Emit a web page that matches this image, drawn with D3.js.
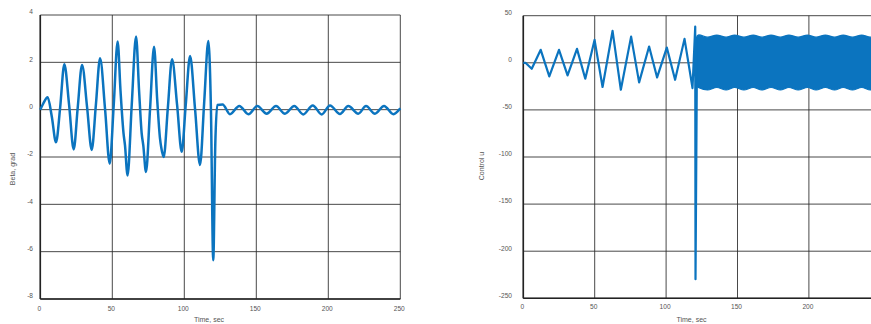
<!DOCTYPE html>
<html>
<head>
<meta charset="utf-8">
<script src="https://cdn.jsdelivr.net/npm/d3@7/dist/d3.min.js"></script>
<style>
  html, body { margin: 0; padding: 0; background: #fff; }
  svg { display: block; }
  text { font-family: "Liberation Sans", Arial, sans-serif; }
</style>
</head>
<body>
<svg id="chart" width="871" height="324"></svg>
<script>
// ---------- DATA ----------
// Left panel: Beta, grad vs Time, sec
const betaTime = [0, 2, 5.1, 8, 10.9, 13.8, 16.7, 20, 23.2, 26, 29, 32.5, 35.7, 38.6, 41.5, 45, 48.2, 51, 53.7,
  55.7, 57.8, 58.8, 60.6, 63.5, 66.5, 68.6, 70.4, 71.5, 73.4, 76.2, 79, 81.2, 83.1, 84, 85.7, 88.6, 91.5,
  95, 98.2, 101, 104, 107.5, 110.9, 113.8, 116.7, 118.5, 120.1, 121.5, 122.9, 126.6,
  131.7, 138.2, 144.5, 150.7, 157.2, 163.7, 169.9, 176.4, 182.6, 189.2, 195.4, 201.2, 208.1, 213.9,
  220.8, 226.2, 232.4, 238.7, 245.2, 250];
const betaValue = [0, 0.25, 0.52, -0.3, -1.38, 0.1, 1.92, 0.2, -1.68, 0.1, 1.89, 0.1, -1.7, 0.2, 2.17, 0.0, -2.28, 0.2, 2.88,
  0.8, -1.0, -1.5, -2.78, 0.2, 3.09, 0.8, -1.0, -1.5, -2.63, 0.0, 2.66, 0.4, -1.2, -1.6, -2.0, 0.1, 2.13,
  0.2, -1.78, 0.2, 2.27, 0.0, -2.34, 0.3, 2.9, 0.0, -6.36, -1.5, 0.2, 0.22,
  -0.19, 0.16, -0.19, 0.15, -0.17, 0.15, -0.17, 0.16, -0.2, 0.18, -0.2, 0.18, -0.18, 0.15,
  -0.17, 0.15, -0.17, 0.16, -0.19, 0.06];

// Right panel: Control u vs Time, sec (pre-switch part)
const uTime = [0, 1.5, 5.9, 12.2, 18.2, 25, 31, 37.6, 43.4, 49.9, 55.5, 62.5, 68.3, 75.5, 81.1, 88.1, 93.7,
  100.5, 106.3, 112.9, 118.5, 120.4, 120.6, 121.7];
const uValue = [0, 0, -6.4, 13.8, -14.5, 13.8, -13.4, 14.8, -16.9, 24.3, -25.7, 33.9, -28.6, 27.8, -20.8, 17.3, -15.5,
  16.2, -18, 25.4, -26.8, 38.4, -229.7, 28];

// Right panel: envelope of the dense high-frequency chattering after switch
const bandTime  = [121.7, 123, 129, 135.5, 142, 148, 154.5, 161, 167, 173.5, 180, 186, 192.5, 199, 205, 211.5, 218, 224, 230.5, 237, 243, 250];
const bandUpper = [28.5, 29.6, 27.2, 29.4, 27.2, 29.4, 27.2, 29.4, 27.2, 29.4, 27.2, 29.4, 27.2, 29.4, 27.2, 29.4, 27.2, 29.4, 27.2, 29.4, 27.2, 28.5];
const bandLower = [-25.5, -26.5, -28.8, -26.2, -28.8, -26.2, -28.8, -26.2, -28.8, -26.2, -28.8, -26.2, -28.8, -26.2, -28.8, -26.2, -28.8, -26.2, -28.8, -26.2, -28.8, -27.5];

// Ticks
const timeTicks = [0, 50, 100, 150, 200, 250];
const betaTicks = [-8, -6, -4, -2, 0, 2, 4];
const uTicks = [-250, -200, -150, -100, -50, 0, 50];

const titles = { beta: "Beta, grad", u: "Control u", time: "Time, sec" };

// ---------- DRAW ----------
const svg = d3.select("#chart");
const LINE = "#0b74bf";
const GRID = "#2a2a2a";
const TXT = "#555";

function panel(opts) {
  const g = svg.append("g");
  const x = d3.scaleLinear().domain([0, 250]).range(opts.xr);
  const y = d3.scaleLinear().domain(opts.yd).range(opts.yr);
  const x0 = opts.xr[0], x1 = Math.min(opts.xr[1], 871), y0 = opts.yr[1], y1 = opts.yr[0];

  // grid
  g.selectAll(".vg").data(timeTicks).join("line")
    .attr("x1", d => x(d)).attr("x2", d => x(d)).attr("y1", y0).attr("y2", y1)
    .attr("stroke", GRID).attr("stroke-width", 1).attr("opacity", 0.85);
  g.selectAll(".hg").data(opts.yticks).join("line")
    .attr("x1", x0).attr("x2", x1).attr("y1", d => y(d)).attr("y2", d => y(d))
    .attr("stroke", GRID).attr("stroke-width", 1).attr("opacity", 0.85);
  // frame (left & bottom axes heavier)
  g.append("line").attr("x1", x0).attr("x2", x0).attr("y1", y0).attr("y2", y1).attr("stroke", "#222").attr("stroke-width", 1.6);
  g.append("line").attr("x1", x0).attr("x2", x1).attr("y1", y1).attr("y2", y1).attr("stroke", "#222").attr("stroke-width", 1.6);

  // tick labels
  g.selectAll(".yt").data(opts.yticks).join("text")
    .attr("x", opts.ylabX).attr("y", d => y(d) - 3).attr("dy", "0.35em")
    .attr("text-anchor", "end").attr("font-size", 6.6).attr("fill", TXT).text(d => d);
  g.selectAll(".xt").data(timeTicks.filter(d => x(d) < 871)).join("text")
    .attr("x", d => x(d) - 1).attr("y", opts.xlabY).attr("dy", "0.35em")
    .attr("text-anchor", "middle").attr("font-size", 6.6).attr("fill", TXT).text(d => d);

  // axis titles
  g.append("text").attr("x", opts.xtitleX).attr("y", 322).attr("text-anchor", "middle")
    .attr("font-size", 7).attr("fill", TXT).text(titles.time);
  g.append("text").attr("transform", `translate(${opts.ytitle[0]},${opts.ytitle[1]}) rotate(-90)`)
    .attr("dy", "0.35em").attr("text-anchor", "middle").attr("font-size", 7).attr("fill", TXT).text(opts.ytitleText);

  return { g, x, y };
}

// Left panel
const L = panel({ xr: [40.3, 400.3], yd: [-8, 4], yr: [299, 15], yticks: betaTicks,
  ylabX: 33, xlabY: 308.3, xtitleX: 209, ytitle: [13, 169], ytitleText: titles.beta });
const betaLine = d3.line().x(d => L.x(d[0])).y(d => L.y(d[1])).curve(d3.curveMonotoneX);
L.g.append("path").datum(d3.zip(betaTime, betaValue)).attr("d", betaLine)
  .attr("fill", "none").attr("stroke", LINE).attr("stroke-width", 2.5).attr("stroke-linejoin", "round");

// Right panel
const R = panel({ xr: [523.3, 880.3], yd: [-250, 50], yr: [298.3, 15.7], yticks: uTicks,
  ylabX: 512, xlabY: 306.7, xtitleX: 691.5, ytitle: [481.5, 166], ytitleText: titles.u });
const uLine = d3.line().x(d => R.x(d[0])).y(d => R.y(d[1]));
R.g.append("path").datum(d3.zip(uTime, uValue)).attr("d", uLine)
  .attr("fill", "none").attr("stroke", LINE).attr("stroke-width", 2.2).attr("stroke-linejoin", "round");
const band = d3.area().x(d => R.x(d[0])).y0(d => R.y(d[2])).y1(d => R.y(d[1])).curve(d3.curveMonotoneX);
R.g.append("path").datum(d3.zip(bandTime, bandUpper, bandLower)).attr("d", band)
  .attr("fill", LINE).attr("stroke", LINE).attr("stroke-width", 1.2);
</script>
</body>
</html>
